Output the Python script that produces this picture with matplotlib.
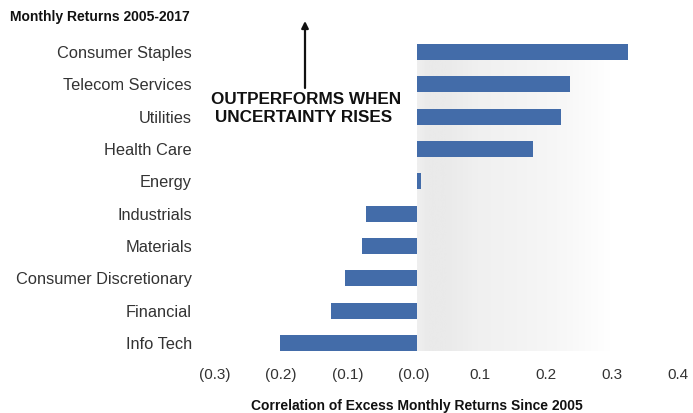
import numpy as np
import matplotlib
matplotlib.use("Agg")
import matplotlib.pyplot as plt
from matplotlib.colors import LinearSegmentedColormap

categories = ["Consumer Staples", "Telecom Services", "Utilities", "Health Care", "Energy",
              "Industrials", "Materials", "Consumer Discretionary", "Financial", "Info Tech"]
values = [0.318, 0.231, 0.217, 0.175, 0.006, -0.077, -0.083, -0.110, -0.131, -0.207]
tick_values = [-0.3, -0.2, -0.1, 0.0, 0.1, 0.2, 0.3, 0.4]
tick_labels = ["(0.3)", "(0.2)", "(0.1)", "(0.0)", "0.1", "0.2", "0.3", "0.4"]

plt.rcParams['font.family'] = ['Liberation Sans', 'DejaVu Sans']

fig = plt.figure(figsize=(6.93, 4.13), dpi=100)
ax = fig.add_axes([215/693, 1 - 359.2/413, (678-215)/693, (359.2-35.8)/413])

off = 0.006

# gradient background
grad_x = np.array([0, 10, 30, 60, 100, 150, 194]) / 194.0
grad_v = np.array([239, 234, 234, 240, 243, 248, 255]) / 255.0
cmap = LinearSegmentedColormap.from_list("g", [(p, (v, v, v)) for p, v in zip(grad_x, grad_v)])
g = np.linspace(0, 1, 300).reshape(1, -1)
ax.imshow(g, cmap=cmap, aspect='auto', extent=[0, 0.293, 9.25, 0.25], zorder=0, vmin=0, vmax=1)
ax.set_xlim(-0.3 - off, 0.4 - off)
ax.set_ylim(9.5, -0.5)

y = np.arange(len(categories))
ax.barh(y, values, height=0.5, color="#436ca9", zorder=2)

ax.set_yticks(y)
ax.set_yticklabels(categories, fontsize=11.8, color="#333333")
ax.tick_params(axis='y', length=0, pad=16.5)
ax.set_xticks([t - off for t in tick_values])
ax.set_xticklabels(tick_labels, fontsize=11, color="#333333")
ax.tick_params(axis='x', length=0, pad=6.5)
for s in ax.spines.values():
    s.set_visible(False)

fig.text(10/693, 1 - 17/413, "Monthly Returns 2005-2017", fontsize=10, fontweight='bold',
         ha='left', va='center', color='#111111')
fig.text(417/693, 1 - 406/413, "Correlation of Excess Monthly Returns Since 2005", fontsize=10,
         fontweight='bold', ha='center', va='center', color='#111111')

fig.text(306/693, 1 - 100/413, "OUTPERFORMS WHEN", fontsize=12.3, fontweight='bold',
         ha='center', va='center', color='#111111')
fig.text(304/693, 1 - 118/413, "UNCERTAINTY RISES", fontsize=12.3, fontweight='bold',
         ha='center', va='center', color='#111111')
ax.annotate("", xy=(305/693, 1 - 21/413), xytext=(305/693, 1 - 88/413),
            xycoords='figure fraction', textcoords='figure fraction',
            arrowprops=dict(arrowstyle='-|>', color='#111111', lw=1.6, mutation_scale=10,
                            shrinkA=0, shrinkB=0))

fig.savefig("out.png", dpi=100)
